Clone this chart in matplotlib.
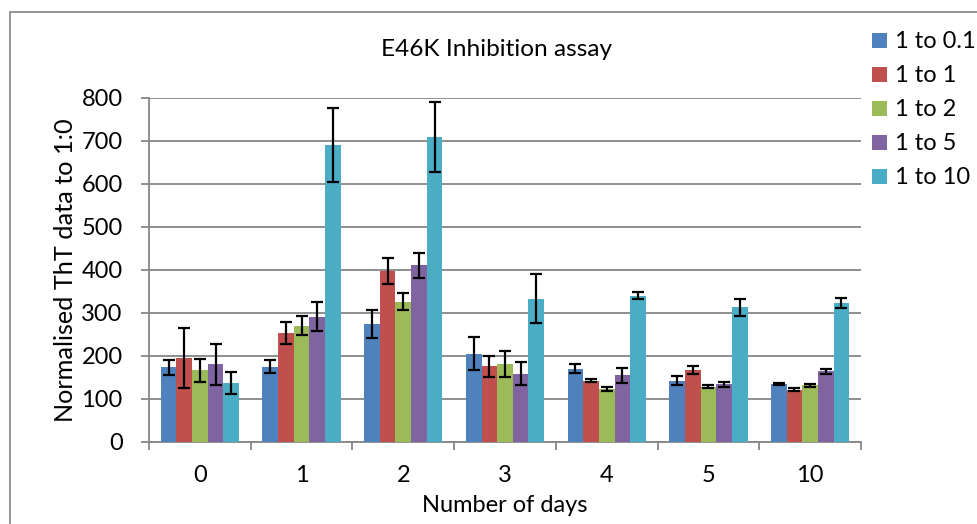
import numpy as np
import matplotlib
matplotlib.use("Agg")
import matplotlib.pyplot as plt
from matplotlib.patches import Rectangle

plt.rcParams['font.family'] = ['Lato', 'DejaVu Sans']

# data
days = ['0', '1', '2', '3', '4', '5', '10']
series = ['1 to 0.1', '1 to 1', '1 to 2', '1 to 5', '1 to 10']
colors = ['#4F81BD', '#C0504D', '#9BBB59', '#8064A2', '#4BACC6']

ratio_01 = [173, 174, 274, 205, 170, 142, 134]
ratio_1 = [194, 253, 397, 175, 142, 167, 121]
ratio_2 = [166, 270, 326, 181, 123, 128, 131]
ratio_5 = [180, 291, 410, 158, 154, 134, 164]
ratio_10 = [137, 689, 708, 332, 340, 313, 323]

err_01 = [17, 15, 32, 39, 10, 11, 3]
err_1 = [70, 25, 30, 24, 3, 9, 3]
err_2 = [27, 22, 20, 30, 4, 4, 4]
err_5 = [47, 33, 29, 27, 17, 6, 6]
err_10 = [25, 86, 81, 57, 9, 20, 12]

values = [ratio_01, ratio_1, ratio_2, ratio_5, ratio_10]
errors = [err_01, err_1, err_2, err_5, err_10]

W, H = 978, 524
fig = plt.figure(figsize=(W / 100, H / 100), dpi=100)
ax = fig.add_axes([149 / W, 1 - 441.7 / H, (861 - 149) / W, (441.7 - 97.7) / H])

# chart area border (cropped on the right and bottom)
fig.patches.append(Rectangle((10 / W, -0.2), 1.2, 1 - 12 / H + 0.2,
                             transform=fig.transFigure, fill=False,
                             edgecolor='#8c8c8c', linewidth=1.3))

grey = '#868686'
fs = 17
x = np.arange(len(days))
w = 1 / 6.5
for j in range(len(series)):
    ax.bar(x + (j - 2) * w, values[j], width=w, color=colors[j],
           label=series[j], zorder=3)
    ax.errorbar(x + (j - 2) * w, values[j], yerr=errors[j], fmt='none',
                ecolor='black', elinewidth=1.6, capsize=4.2, capthick=1.6,
                zorder=4)

ax.set_xlim(-0.5, len(days) - 0.5)
ax.set_ylim(0, 800)
ax.set_yticks(np.arange(0, 801, 100))
ax.yaxis.grid(True, color=grey, linewidth=1.3, zorder=0)
ax.set_axisbelow(True)

ax.set_xticks(np.arange(-0.5, len(days), 1))
ax.set_xticklabels([])
ax.set_xticks(x, minor=True)
ax.set_xticklabels(days, minor=True)
ax.tick_params(axis='x', which='major', length=6, width=1.3, color=grey)
ax.tick_params(axis='x', which='minor', length=0, pad=17, labelsize=fs)
ax.tick_params(axis='y', length=6, width=1.3, color=grey, pad=13, labelsize=fs)

for s in ['top', 'right']:
    ax.spines[s].set_visible(False)
for s in ['left', 'bottom']:
    ax.spines[s].set_color(grey)
    ax.spines[s].set_linewidth(1.3)

ax.set_ylabel('Normalised ThT data to 1:0', fontsize=18.2, labelpad=3)
ax.set_xlabel('Number of days', fontsize=fs, labelpad=6)
fig.text(497 / W, 1 - 49 / H, 'E46K Inhibition assay', fontsize=17.6,
         ha='center', va='center')

fig.legend(loc='upper left', bbox_to_anchor=(863 / W, 1 - 22 / H),
           frameon=False, fontsize=fs, handlelength=0.6, handleheight=0.6,
           handletextpad=0.35, labelspacing=0.55, borderaxespad=0)

fig.savefig('out.png', dpi=100)
